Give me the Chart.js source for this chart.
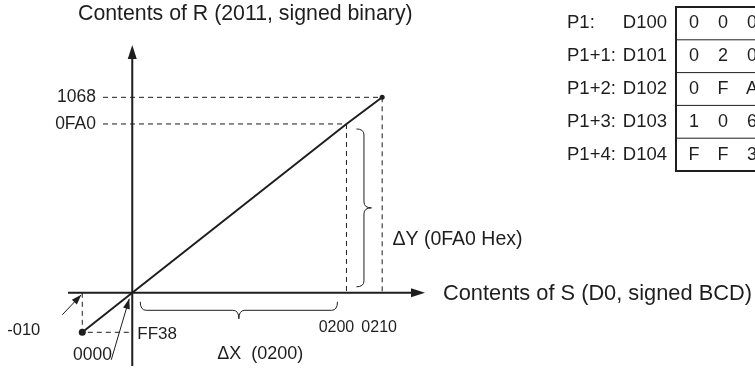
<!DOCTYPE html>
<html>
<head>
<meta charset="utf-8">
<script src="https://cdn.jsdelivr.net/npm/chart.js@4/dist/chart.umd.min.js"></script>
<style>
  html, body { margin: 0; padding: 0; background: #fff; overflow: hidden; }
</style>
</head>
<body>
<canvas id="scl" width="755" height="370"></canvas>
<script>
// S (signed BCD) inputs and the R (signed binary) results they scale to
const sValues = [-10, 0, 200, 210];
const sLabels = ["-010", "0000", "0200", "0210"];
const rValues = [-200, 0, 4000, 4200];          // FF38, 0000, 0FA0, 1068
const rLabels = ["FF38", "0000", "0FA0", "1068"];

// parameter words P1 .. P1+4
const paramNames = ["P1:", "P1+1:", "P1+2:", "P1+3:", "P1+4:"];
const paramRegs = ["D100", "D101", "D102", "D103", "D104"];
const paramWords = ["0000", "0200", "0FA0", "1068", "FF38"];

const INK = "#1e1e1e";
const FONT = '"Liberation Sans", Arial, Helvetica, sans-serif';

// linear scale with a segmented value->pixel mapping, so the small
// end ranges (-010, 0200..0210) get readable room on the drawing
class BrokenScale extends Chart.LinearScale {
    getPixelForValue(value) {
        const stops = this.options.stops;
        let i = 1;
        while (i < stops.length - 1 && value > stops[i][0]) i++;
        const [v0, d0] = stops[i - 1];
        const [v1, d1] = stops[i];
        return this.getPixelForDecimal(d0 + (value - v0) / (v1 - v0) * (d1 - d0));
    }
}
BrokenScale.id = "broken";
Chart.register(BrokenScale);

function arrowHead(ctx, fromX, fromY, tipX, tipY, len, half) {
    const a = Math.atan2(tipY - fromY, tipX - fromX);
    ctx.beginPath();
    ctx.moveTo(tipX, tipY);
    ctx.lineTo(tipX - len * Math.cos(a) + half * Math.sin(a), tipY - len * Math.sin(a) - half * Math.cos(a));
    ctx.lineTo(tipX - len * Math.cos(a) - half * Math.sin(a), tipY - len * Math.sin(a) + half * Math.cos(a));
    ctx.closePath();
    ctx.fill();
}

function arrow(ctx, x1, y1, x2, y2) {
    ctx.beginPath();
    ctx.moveTo(x1, y1);
    ctx.lineTo(x2, y2);
    ctx.stroke();
    arrowHead(ctx, x1, y1, x2, y2, 10, 3.5);
}

// horizontal curly brace, tip pointing down
function braceX(ctx, x1, x2, y, depth) {
    const mid = (x1 + x2) / 2, r = 6;
    ctx.beginPath();
    ctx.moveTo(x1, y);
    ctx.quadraticCurveTo(x1, y + depth / 2, x1 + r, y + depth / 2);
    ctx.lineTo(mid - r, y + depth / 2);
    ctx.quadraticCurveTo(mid, y + depth / 2, mid, y + depth);
    ctx.quadraticCurveTo(mid, y + depth / 2, mid + r, y + depth / 2);
    ctx.lineTo(x2 - r, y + depth / 2);
    ctx.quadraticCurveTo(x2, y + depth / 2, x2, y);
    ctx.stroke();
}

// vertical curly brace, tip pointing right
function braceY(ctx, y1, y2, x, depth) {
    const mid = (y1 + y2) / 2, r = 6;
    ctx.beginPath();
    ctx.moveTo(x, y1);
    ctx.quadraticCurveTo(x + depth / 2, y1, x + depth / 2, y1 + r);
    ctx.lineTo(x + depth / 2, mid - r);
    ctx.quadraticCurveTo(x + depth / 2, mid, x + depth, mid);
    ctx.quadraticCurveTo(x + depth / 2, mid, x + depth / 2, mid + r);
    ctx.lineTo(x + depth / 2, y2 - r);
    ctx.quadraticCurveTo(x + depth / 2, y2, x, y2);
    ctx.stroke();
}

function text(ctx, str, x, y, size, align) {
    ctx.font = size + "px " + FONT;
    ctx.textAlign = align || "left";
    ctx.textBaseline = "middle";
    ctx.fillText(str, x, y);
}

// axes, guide lines, braces, labels and the parameter table
const diagram = {
    id: "diagram",
    beforeDatasetsDraw(chart) {
        const ctx = chart.ctx, area = chart.chartArea;
        const X = v => chart.scales.x.getPixelForValue(v);
        const Y = v => chart.scales.y.getPixelForValue(v);
        const ox = X(0), oy = Y(0);
        ctx.save();
        ctx.strokeStyle = INK;
        ctx.fillStyle = INK;

        // guides
        ctx.lineWidth = 1;
        ctx.setLineDash([5, 4]);
        ctx.beginPath();
        for (let i = 2; i < sValues.length; i++) {
            const px = X(sValues[i]), py = Y(rValues[i]);
            ctx.moveTo(area.left + 35, py);
            ctx.lineTo(px, py);
            ctx.moveTo(px, py);
            ctx.lineTo(px, oy);
        }
        const nx = X(sValues[0]), ny = Y(rValues[0]);
        ctx.moveTo(nx, oy);
        ctx.lineTo(nx, ny);
        ctx.lineTo(ox, ny);
        ctx.stroke();
        ctx.setLineDash([]);

        // axes with arrow heads
        ctx.lineWidth = 2;
        ctx.beginPath();
        ctx.moveTo(area.left, oy);
        ctx.lineTo(area.right - 8, oy);
        ctx.moveTo(ox, area.bottom);
        ctx.lineTo(ox, area.top + 8);
        ctx.stroke();
        arrowHead(ctx, area.left, oy, area.right, oy, 14, 4.5);
        arrowHead(ctx, ox, area.bottom, ox, area.top, 14, 4.5);
        ctx.restore();
    },
    afterDraw(chart) {
        const ctx = chart.ctx;
        const X = v => chart.scales.x.getPixelForValue(v);
        const Y = v => chart.scales.y.getPixelForValue(v);
        const ox = X(0), oy = Y(0);
        ctx.save();
        ctx.strokeStyle = INK;
        ctx.fillStyle = INK;
        ctx.lineWidth = 1;

        // axis titles
        text(ctx, "Contents of R (2011, signed binary)", 78, 14, 21.3);
        text(ctx, "Contents of S (D0, signed BCD)", 443, oy + 1, 21.8);

        // R values on the left
        text(ctx, rLabels[3], 96, Y(rValues[3]), 17.5, "right");
        text(ctx, rLabels[2], 96, Y(rValues[2]), 17.5, "right");
        // S values under the axis
        text(ctx, sLabels[2], X(sValues[2]) - 10, oy + 35, 16, "center");
        text(ctx, sLabels[3], X(sValues[3]) - 3, oy + 35, 16, "center");

        // lower-left callouts
        const nx = X(sValues[0]), ny = Y(rValues[0]);
        text(ctx, sLabels[0], nx - 42, ny - 2, 16.5, "right");
        arrow(ctx, nx - 20, oy + 22, nx - 1, oy + 2);
        text(ctx, rLabels[0], ox + 5, ny + 2, 17);
        text(ctx, rLabels[1], 73, oy + 62, 17.5);
        arrow(ctx, ox - 21, oy + 67, ox - 3, oy + 6);

        // delta braces
        braceX(ctx, ox + 8, X(sValues[2]) - 9, oy + 9, 17);
        text(ctx, "\u0394X  (0200)", ox + 85, oy + 61, 18);
        braceY(ctx, Y(rValues[2]) + 5, oy - 6, X(sValues[2]) + 10, 15);
        text(ctx, "\u0394Y (0FA0 Hex)", X(sValues[2]) + 46, (Y(rValues[2]) + oy) / 2 + 31, 19.5);

        // parameter table, runs off the right edge
        const tx = 676, ty = 7, rowH = 32.8;
        ctx.lineWidth = 1;
        for (let i = 1; i < paramWords.length; i++) {
            ctx.beginPath();
            ctx.moveTo(tx, ty + i * rowH);
            ctx.lineTo(800, ty + i * rowH);
            ctx.stroke();
        }
        ctx.lineWidth = 2;
        ctx.strokeRect(tx, ty, 200, rowH * paramWords.length);
        paramWords.forEach((w, i) => {
            const cy = ty + (i + 0.5) * rowH;
            text(ctx, paramNames[i], 567, cy, 18.5);
            text(ctx, paramRegs[i], 667, cy, 18.5, "right");
            [...w].forEach((c, j) => text(ctx, c, 694 + j * 29, cy, 18, "center"));
        });
        ctx.restore();
    }
};

new Chart(document.getElementById("scl"), {
    type: "scatter",
    data: {
        datasets: [{
            data: sValues.map((s, i) => ({ x: s, y: rValues[i] })),
            showLine: true,
            borderColor: INK,
            backgroundColor: INK,
            borderWidth: 2,
            pointRadius: [3.5, 0, 0, 2.5],
            pointBorderWidth: 0,
            pointBackgroundColor: INK
        }]
    },
    options: {
        responsive: false,
        animation: false,
        devicePixelRatio: 1,
        layout: { padding: { left: 68, right: 330, top: 45, bottom: 0 } },
        plugins: { legend: { display: false }, tooltip: { enabled: false } },
        scales: {
            x: {
                type: "broken", display: false, min: -25, max: 230,
                stops: [[-25, 0], [-10, 0.04], [0, 0.18], [200, 0.78], [210, 0.88], [230, 1]]
            },
            y: {
                type: "broken", display: false, min: -500, max: 5500,
                stops: [[-500, 0], [-200, 0.105], [0, 0.228], [4000, 0.754], [4200, 0.837], [5500, 1]]
            }
        }
    },
    plugins: [diagram]
});
</script>
</body>
</html>
